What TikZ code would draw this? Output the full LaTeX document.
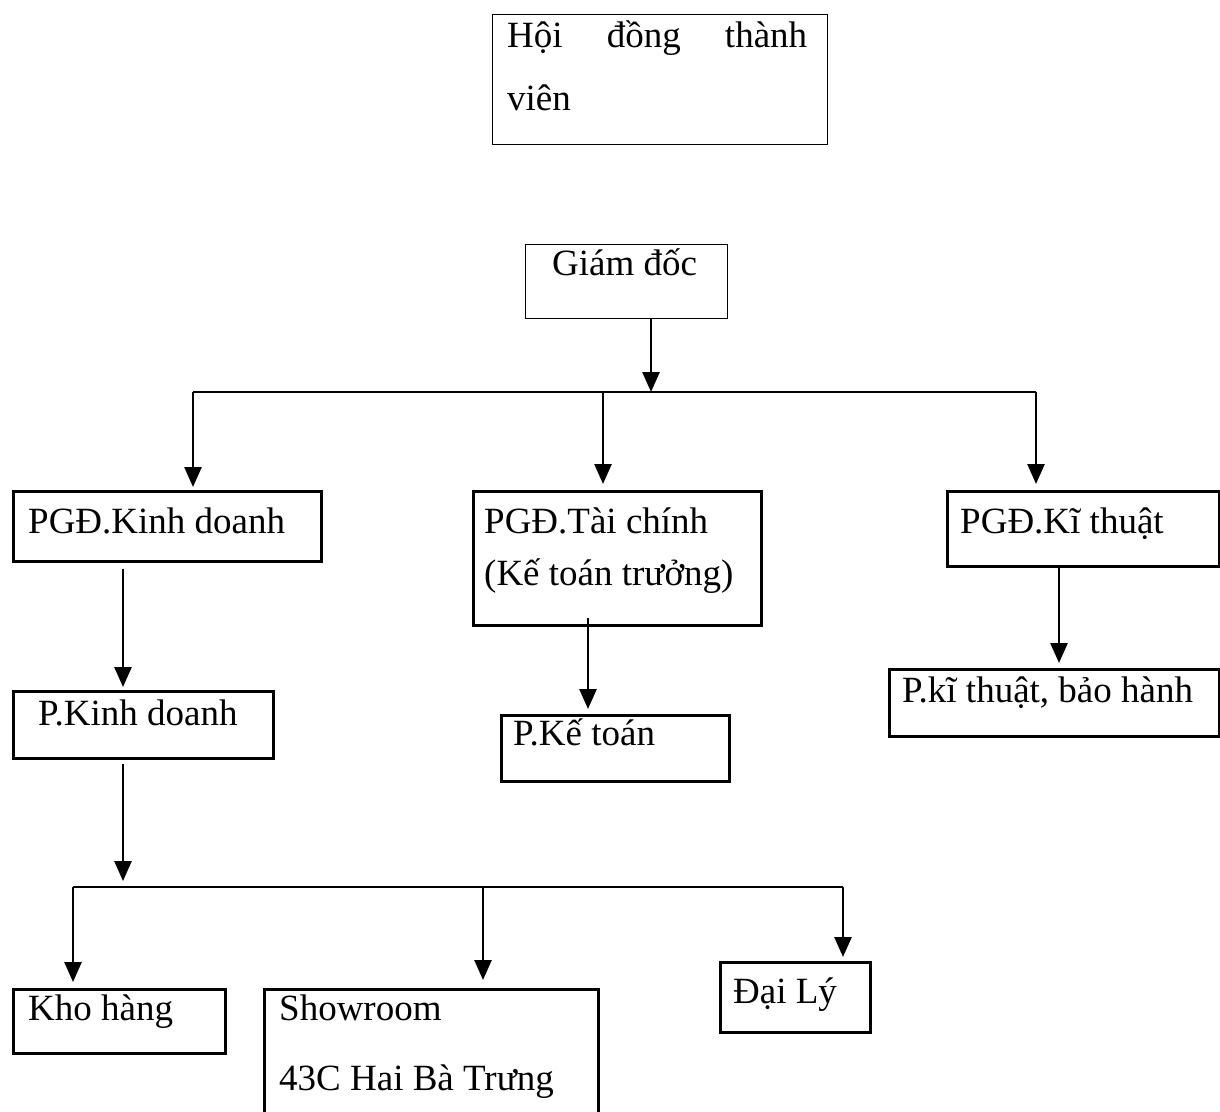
\documentclass[tikz,border=0pt]{standalone}
\usepackage{fontspec}
\setmainfont{Liberation Serif}
\usetikzlibrary{arrows.meta}
\begin{document}
\begin{tikzpicture}[x=1pt,y=-1pt,
  thinbox/.style={draw, line width=1.3pt, inner sep=0pt, anchor=north west},
  thickbox/.style={draw, line width=3.2pt, inner sep=0pt, anchor=north west},
  txt/.style={anchor=base west, inner sep=0pt, font=\fontsize{37}{44}\selectfont},
  conn/.style={line width=2.6pt, -{Triangle[width=17pt,length=20pt]}},
  busline/.style={line width=2.6pt}]
\useasboundingbox (0,0) rectangle (1220,1111);

% boxes
\node[thinbox, minimum width=335pt, minimum height=130pt] (hdtv) at (492,14) {};
\node[thinbox, minimum width=202pt, minimum height=74pt] (gd) at (525,244) {};
\node[thickbox, minimum width=308pt, minimum height=70pt] (pgdkd) at (12,490) {};
\node[thickbox, minimum width=288pt, minimum height=134pt] (pgdtc) at (472,490) {};
\node[thickbox, minimum width=272pt, minimum height=75pt] (pgdkt) at (946,490) {};
\node[thickbox, minimum width=260pt, minimum height=67pt] (pkd) at (12,690) {};
\node[thickbox, minimum width=228pt, minimum height=66pt] (pkt) at (500,714) {};
\node[thickbox, minimum width=330pt, minimum height=67pt] (pktbh) at (888,668) {};
\node[thickbox, minimum width=212pt, minimum height=64pt] (kho) at (12,988) {};
\node[thickbox, minimum width=334pt, minimum height=140pt] (show) at (263,988) {};
\node[thickbox, minimum width=150pt, minimum height=70pt] (daily) at (719,961) {};

% texts
\node[txt] (thdtv1) at (507,47) {\makebox[300pt][s]{Hội\hfill đồng\hfill thành}};
\node[txt] (thdtv2) at (507,110) {viên};
\node[txt] (tgd) at (552,275) {Giám đốc};
\node[txt] (tpgdkd) at (28,533) {PGĐ.Kinh doanh};
\node[txt] (tpgdtc1) at (484,533) {PGĐ.Tài chính};
\node[txt] (tpgdtc2) at (484,585) {(Kế toán trưởng)};
\node[txt] (tpgdkt) at (960,533) {PGĐ.Kĩ thuật};
\node[txt] (tpkd) at (38,725) {P.Kinh doanh};
\node[txt] (tpkt) at (513,745) {P.Kế toán};
\node[txt] (tpktbh) at (902,702) {P.kĩ thuật, bảo hành};
\node[txt] (tkho) at (28,1020) {Kho hàng};
\node[txt] (tshow1) at (279,1020) {Showroom};
\node[txt] (tshow2) at (279,1090) {43C Hai Bà Trưng};
\node[txt] (tdaily) at (733,1003) {Đại Lý};

% bus coordinates
\coordinate (b1) at (651,392);
\coordinate (b1L) at (193,392);
\coordinate (b1M) at (603,392);
\coordinate (b1R) at (1036,392);
\coordinate (x1) at (123,0);
\coordinate (x2) at (588,0);
\coordinate (x3) at (1059,0);
\coordinate (b2) at (123,887);
\coordinate (b2L) at (73,887);
\coordinate (b2M) at (483,887);
\coordinate (b2R) at (843,887);

% connectors
\draw[conn] (gd.south -| b1) -- (b1);
\draw[busline] (b1L) -- (b1R);
\draw[conn, shorten >=3pt] (b1L) -- (b1L |- pgdkd.north);
\draw[conn, shorten >=6pt] (b1M) -- (b1M |- pgdtc.north);
\draw[conn, shorten >=6pt] (b1R) -- (b1R |- pgdkt.north);

\draw[conn, shorten >=3pt] ([yshift=-6pt] pgdkd.south -| x1) -- (pkd.north -| x1);
\draw[conn, shorten >=5pt] ([yshift=9pt] pgdtc.south -| x2) -- (pkt.north -| x2);
\draw[conn, shorten >=5pt] (pgdkt.south -| x3) -- (pktbh.north -| x3);

\draw[conn, shorten >=6pt] ([yshift=-4pt] pkd.south -| b2) -- (b2);
\draw[busline] (b2L) -- (b2R);
\draw[conn, shorten >=6pt] (b2L) -- (b2L |- kho.north);
\draw[conn, shorten >=8pt] (b2M) -- (b2M |- show.north);
\draw[conn, shorten >=4pt] (b2R) -- (b2R |- daily.north);
\end{tikzpicture}
\end{document}
